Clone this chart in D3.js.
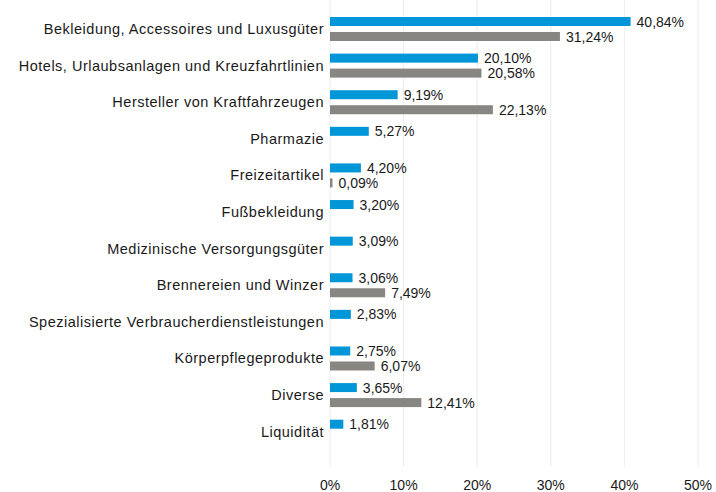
<!DOCTYPE html>
<html>
<head>
<meta charset="utf-8">
<script src="https://cdn.jsdelivr.net/npm/d3@7"></script>
<style>
  body { margin: 0; background: #fff; }
  text { font-family: "Liberation Sans", Arial, sans-serif; fill: #1a1a1a; }
</style>
</head>
<body>
<svg id="chart" width="716" height="492"></svg>
<script>
let categories = ['Bekleidung, Accessoires und Luxusgüter', 'Hotels, Urlaubsanlagen und Kreuzfahrtlinien',
  'Hersteller von Kraftfahrzeugen', 'Pharmazie', 'Freizeitartikel', 'Fußbekleidung',
  'Medizinische Versorgungsgüter', 'Brennereien und Winzer', 'Spezialisierte  Verbraucherdienstleistungen',
  'Körperpflegeprodukte', 'Diverse', 'Liquidität'];
let blueValues = [40.84, 20.10, 9.19, 5.27, 4.20, 3.20, 3.09, 3.06, 2.83, 2.75, 3.65, 1.81];
let greyValues = [31.24, 20.58, 22.13, null, 0.09, null, null, 7.49, null, 6.07, 12.41, null];
let ticks = [0, 10, 20, 30, 40, 50];

let colors = {blue: '#0096d7', grey: '#878682'};
let svg = d3.select('#chart');

let xScale = d3.scaleLinear().domain([0, 50]).range([330, 698]);
let yScale = d3.scaleBand().domain(categories).range([10.7, 450]);
let fmt = v => v.toFixed(2).replace('.', ',') + '%';

// gridlines
svg.append('g')
  .selectAll('line')
  .data(ticks)
  .enter()
  .append('line')
  .attr('x1', d => xScale(d)).attr('x2', d => xScale(d))
  .attr('y1', 0).attr('y2', 467)
  .attr('stroke', '#ececec')
  .attr('stroke-width', 1);

// tick labels
svg.append('g')
  .selectAll('text')
  .data(ticks)
  .enter()
  .append('text')
  .attr('x', d => xScale(d))
  .attr('y', 490)
  .attr('text-anchor', 'middle')
  .style('font-size', '14px')
  .text(d => d + '%');

// category labels
svg.append('g')
  .selectAll('text')
  .data(categories)
  .enter()
  .append('text')
  .attr('x', 324)
  .attr('y', d => yScale(d) + yScale.bandwidth() / 2 + 5)
  .attr('text-anchor', 'end')
  .style('font-size', '14.5px')
  .style('letter-spacing', '0.5px')
  .text(d => d);

let rows = categories.map((c, i) => ({cat: c, blue: blueValues[i], grey: greyValues[i]}));

function drawSeries(key, offset) {
  let data = rows.filter(d => d[key] !== null);
  let g = svg.append('g');
  g.selectAll('rect')
    .data(data)
    .enter()
    .append('rect')
    .attr('x', xScale(0))
    .attr('y', d => yScale(d.cat) + yScale.bandwidth() / 2 + offset - 4.5)
    .attr('width', d => Math.max(xScale(d[key]) - xScale(0), 2.5))
    .attr('height', 9)
    .attr('fill', colors[key]);
  g.selectAll('text')
    .data(data)
    .enter()
    .append('text')
    .attr('x', d => Math.max(xScale(d[key]), xScale(0) + 2.5) + 6)
    .attr('y', d => yScale(d.cat) + yScale.bandwidth() / 2 + offset + 5)
    .style('font-size', '14px')
    .text(d => fmt(d[key]));
}
drawSeries('blue', -7.5);
drawSeries('grey', 7.5);
</script>
</body>
</html>
